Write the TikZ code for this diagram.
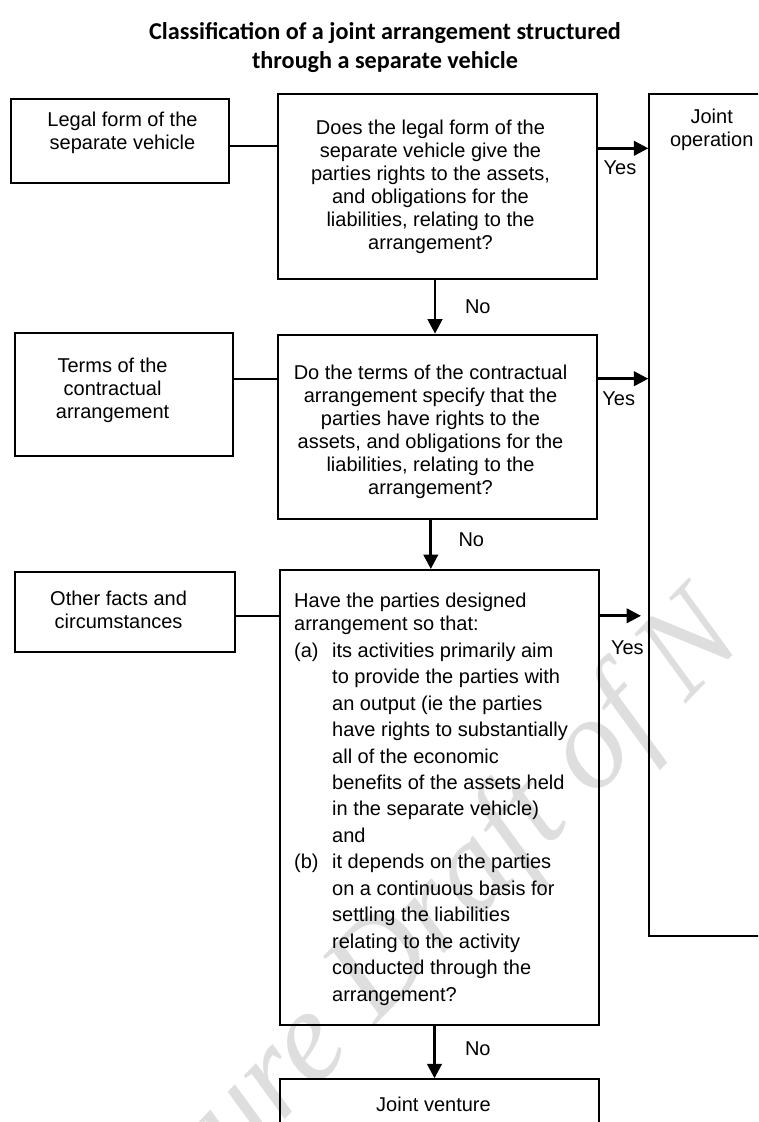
\documentclass[tikz,border=0pt]{standalone}
\usepackage{fontspec}
\setmainfont{Liberation Sans}
\newfontfamily\titlefont{Carlito}
\newfontfamily\wmfont{Liberation Serif}
\usetikzlibrary{arrows.meta}
\begin{document}
\begin{tikzpicture}[x=1pt,y=-1pt,
  box/.style={draw, line width=2pt, inner sep=0pt},
  txt/.style={font=\fontsize{20}{23}\selectfont, inner sep=0pt, align=center, anchor=north},
  lbl/.style={font=\fontsize{20}{23}\selectfont, inner sep=0pt},
  link/.style={line width=2pt},
  arr/.style={line width=2.8pt, -{Triangle[length=14.5pt,width=14.5pt]}},
  wm/.style={font={\wmfont\itshape\fontsize{130}{130}\selectfont}, text=black!13, inner sep=0pt}]
\useasboundingbox (0,0) rectangle (758,1122);
\clip (0,0) rectangle (758,1122);
% watermark
\node[wm, rotate=46, anchor=base west] (mark) at (236,1170) {ure Draft of N};
% title
\node[font={\titlefont\bfseries\fontsize{24.2}{28.9}\selectfont}, align=center, anchor=north, inner sep=0pt] (title) at (385,22.6)
  {Classification of a joint arrangement structured\\through a separate vehicle};
% boxes
\node[box, minimum width=218.5pt, minimum height=84pt] (legal) at (119.85,141.3) {};
\node[box, minimum width=318.7pt, minimum height=184.4pt] (q1) at (437.35,186.5) {};
\node[box, minimum width=150.7pt, minimum height=841.4pt] (jo) at (724.65,515) {};
\node[box, minimum width=218.5pt, minimum height=122.4pt] (terms) at (123.75,394.5) {};
\node[box, minimum width=319pt, minimum height=184.6pt] (q2) at (437.9,427) {};
\node[box, minimum width=220.5pt, minimum height=80.3pt] (other) at (124.75,612.15) {};
\node[box, minimum width=319pt, minimum height=455pt] (q3) at (439.8,797.5) {};
\node[box, minimum width=319pt, minimum height=80.7pt] (jv) at (439.8,1119.65) {};
% texts
\node[txt] (legalt) at (122.5,112.1) {Legal form of the\\separate vehicle};
\node[txt] (q1t) at (430.5,119.6) {Does the legal form of the\\separate vehicle give the\\parties rights to the assets,\\and obligations for the\\liabilities, relating to the\\arrangement?};
\node[txt] (jot) at (711.7,108.7) {Joint\\operation};
\node[txt] (termst) at (112.6,357.9) {Terms of the\\contractual\\arrangement};
\node[txt] (q2t) at (430.5,364.6) {Do the terms of the contractual\\arrangement specify that the\\parties have rights to the\\assets, and obligations for the\\liabilities, relating to the\\arrangement?};
\node[txt] (othert) at (118.6,591.2) {Other facts and\\circumstances};
\node[txt, font=\fontsize{20}{26.45}\selectfont, align=left, anchor=north west] (q3t) at (294,592.5)
  {Have the parties designed\\[-3.45pt]
   arrangement so that:\\[0.55pt]
   \makebox[38pt][l]{(a)}its activities primarily aim\\
   \hspace*{38pt}to provide the parties with\\
   \hspace*{38pt}an output (ie the parties\\
   \hspace*{38pt}have rights to substantially\\
   \hspace*{38pt}all of the economic\\
   \hspace*{38pt}benefits of the assets held\\
   \hspace*{38pt}in the separate vehicle)\\
   \hspace*{38pt}and\\
   \makebox[38pt][l]{(b)}it depends on the parties\\
   \hspace*{38pt}on a continuous basis for\\
   \hspace*{38pt}settling the liabilities\\
   \hspace*{38pt}relating to the activity\\
   \hspace*{38pt}conducted through the\\
   \hspace*{38pt}arrangement?};
\node[txt] (jvt) at (433.5,1096.9) {Joint venture};
% side links
\coordinate (l1) at ([yshift=-4.4pt]legal.east);
\coordinate (l2) at ([yshift=15.8pt]terms.east);
\coordinate (l3) at ([yshift=-3.65pt]other.east);
\draw[link] (l1) -- (l1 -| q1.west);
\draw[link] (l2) -- (l2 -| q2.west);
\draw[link] (l3) -- (l3 -| q3.west);
% yes arrows
\coordinate (y1) at ([yshift=38.2pt]q1.east);
\coordinate (y2) at ([yshift=48.3pt]q2.east);
\coordinate (y3) at ([yshift=181.7pt]q3.east);
\draw[arr] (y1) -- (y1 -| jo.west);
\draw[arr] (y2) -- (y2 -| jo.west);
\draw[arr, shorten >=7.3pt] (y3) -- (y3 -| jo.west);
\node[lbl] (yes1) at (620,167.5) {Yes};
\node[lbl] (yes2) at (618.7,399) {Yes};
\node[lbl] (yes3) at (627.4,647.5) {Yes};
% no arrows
\draw[arr] ([xshift=-2.35pt]q1.south) -- ([xshift=-2.35pt]q1.south |- q2.north);
\draw[arr] ([xshift=-7.1pt]q2.south) -- ([xshift=-7.1pt]q2.south |- q3.north);
\draw[arr] ([xshift=-5.3pt]q3.south) -- ([xshift=-5.3pt]q3.south |- jv.north);
\node[lbl] (no1) at (477.8,306.3) {No};
\node[lbl] (no2) at (471.3,540) {No};
\node[lbl] (no3) at (477.8,1048.8) {No};
\end{tikzpicture}
\end{document}
